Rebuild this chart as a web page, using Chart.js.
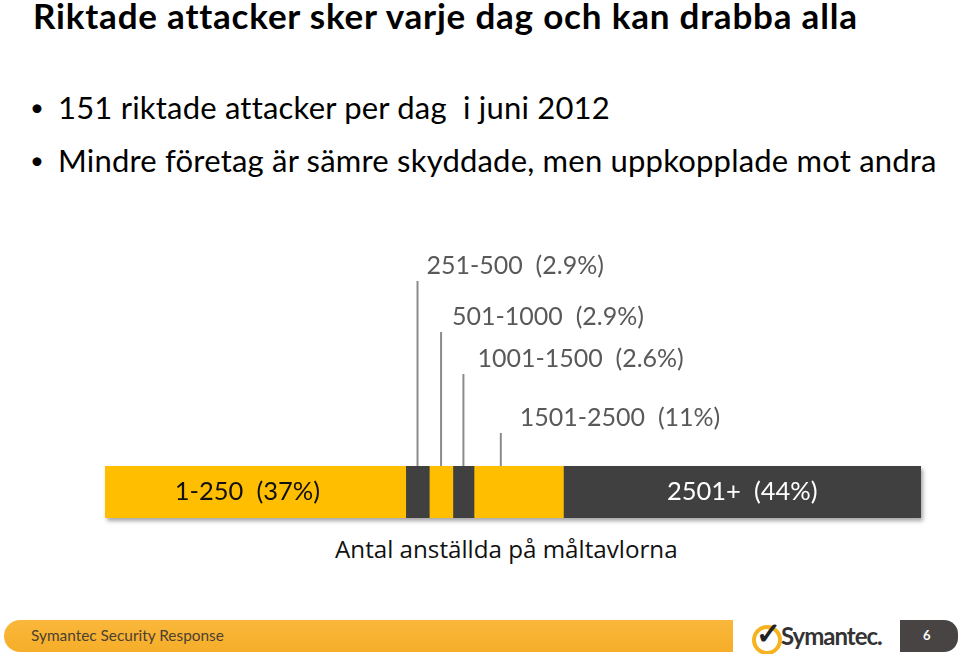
<!DOCTYPE html>
<html>
<head>
<meta charset="utf-8">
<script src="https://cdn.jsdelivr.net/npm/chart.js@4.4.1/dist/chart.umd.min.js"></script>
<style>
  html, body { margin: 0; padding: 0; background: #fff; }
  body { width: 959px; height: 654px; position: relative; overflow: hidden; font-family: Lato, sans-serif; }
  .abs { position: absolute; white-space: nowrap; }
  #title { left: 33px; top: -6px; font-size: 35px; font-weight: bold; color: #000; letter-spacing: 0.8px; }
  .bullet { left: 30px; font-size: 31px; color: #000; letter-spacing: 0.2px; }
  .bullet span { display: inline-block; width: 28px; font-size: 24px; vertical-align: 3px; }
  #axisTitle { left: 335px; top: 532px; font-family: "Open Sans", sans-serif; font-size: 24.2px; color: #111; }
  #chartBox { left: 100px; top: 240px; width: 840px; height: 290px; }
  #footBar { left: 4px; top: 620px; width: 729px; height: 32px; border-radius: 16px 0 0 16px;
             background: linear-gradient(#f9b73a, #f6ae2a); }
  #footText { left: 31px; top: 626px; font-size: 15.4px; color: #4d4032; }
  #pageBox { left: 900px; top: 620px; width: 58px; height: 32px; border-radius: 0 14px 14px 0; background: #484444; }
  #pageNum { left: 923px; top: 627px; font-size: 13px; font-weight: bold; color: #fff; }
  #logoRing { left: 752px; top: 625px; width: 22px; height: 22px; border: 4px solid #f7b21f; border-radius: 50%; }
  #logoCheck { left: 756px; top: 614px; font-size: 30px; font-weight: bold; color: #222; }
  #logoText { left: 781px; top: 621px; font-size: 24px; font-weight: bold; color: #333; letter-spacing: -1px; }
</style>
</head>
<body>
<div id="title" class="abs">Riktade attacker sker varje dag och kan drabba alla</div>
<div class="abs bullet" style="top:88px;"><span>•</span>151 riktade attacker per dag&nbsp; i juni 2012</div>
<div class="abs bullet" style="top:141px;"><span>•</span>Mindre företag är sämre skyddade, men uppkopplade mot andra</div>

<div id="chartBox" class="abs"><canvas id="c"></canvas></div>
<div id="axisTitle" class="abs">Antal anställda på måltavlorna</div>

<div id="footBar" class="abs"></div>
<div id="footText" class="abs">Symantec Security Response</div>
<div id="logoRing" class="abs"></div>
<div id="logoCheck" class="abs">✓</div>
<div id="logoText" class="abs">Symantec.</div>
<div id="pageBox" class="abs"></div>
<div id="pageNum" class="abs">6</div>

<script>
// employee-size groups and share of targeted attacks (%)
const groups = ['1-250', '251-500', '501-1000', '1001-1500', '1501-2500', '2501+'];
const shares = [37, 2.9, 2.9, 2.6, 11, 44];
const shareText = ['37%', '2.9%', '2.9%', '2.6%', '11%', '44%'];
const barColors = ['#ffbf00', '#404040', '#ffbf00', '#404040', '#ffbf00', '#404040'];

// which groups get a label inside the bar, which get a callout above it
const insideLabels = [0, 5];
const calloutGroups = [1, 2, 3, 4];
const calloutTop = [281, 332, 374, 433];     // y of top of each leader line (page px)
const calloutAnchor = [0.5, 0.5, 0.5, 0.3];  // where on the segment the leader sits
const calloutGap = [9, 11, 14, 19];

const boxTop = 240, boxLeft = 100;

const labelsPlugin = {
  id: 'labels',
  afterDatasetsDraw(chart) {
    const ctx = chart.ctx;
    const x = chart.scales.x;
    const area = chart.chartArea;
    const starts = [];
    let acc = 0;
    shares.forEach(v => { starts.push(acc); acc += v; });

    ctx.save();
    // leader lines + callout labels
    calloutGroups.forEach((g, i) => {
      const px = x.getPixelForValue(starts[g] + shares[g] * calloutAnchor[i]);
      const top = calloutTop[i] - boxTop;
      ctx.strokeStyle = '#8f8a8a';
      ctx.lineWidth = 2;
      ctx.beginPath();
      ctx.moveTo(px, area.top);
      ctx.lineTo(px, top);
      ctx.stroke();
      ctx.fillStyle = '#595959';
      ctx.font = '25px Lato, sans-serif';
      ctx.textAlign = 'left';
      ctx.textBaseline = 'middle';
      ctx.fillText(groups[g] + '  (' + shareText[g] + ')', px + calloutGap[i], top - 15);
    });
    // labels inside the bar
    insideLabels.forEach(g => {
      const px = x.getPixelForValue(starts[g] + shares[g] / 2);
      ctx.fillStyle = barColors[g] === '#404040' ? '#ffffff' : '#111111';
      ctx.font = '25.5px Lato, sans-serif';
      ctx.textAlign = 'center';
      ctx.textBaseline = 'middle';
      ctx.fillText(groups[g] + '  (' + shareText[g] + ')', g === 0 ? px - 8 : px, (area.top + area.bottom) / 2);
    });
    ctx.restore();
  }
};

const shadowPlugin = {
  id: 'barShadow',
  beforeDatasetsDraw(chart) {
    const ctx = chart.ctx;
    ctx.save();
    ctx.shadowColor = 'rgba(0,0,0,0.35)';
    ctx.shadowBlur = 4;
    ctx.shadowOffsetX = 2;
    ctx.shadowOffsetY = 3;
    const a = chart.chartArea;
    ctx.fillStyle = '#ffffff';
    ctx.fillRect(a.left, a.top, a.right - a.left, a.bottom - a.top);
    ctx.restore();
  }
};

new Chart(document.getElementById('c'), {
  type: 'bar',
  data: {
    labels: ['Andel'],
    datasets: groups.map((g, i) => ({
      label: g,
      data: [shares[i]],
      backgroundColor: barColors[i],
      borderWidth: 0,
      barPercentage: 1,
      categoryPercentage: 1
    }))
  },
  options: {
    indexAxis: 'y',
    responsive: true,
    maintainAspectRatio: false,
    animation: false,
    layout: { padding: { left: 5, right: 19, top: 226, bottom: 12 } },
    scales: {
      x: { stacked: true, display: false, min: 0, max: shares.reduce((a, b) => a + b, 0) },
      y: { stacked: true, display: false }
    },
    plugins: {
      legend: { display: false },
      tooltip: { enabled: false }
    }
  },
  plugins: [shadowPlugin, labelsPlugin]
});
</script>
</body>
</html>
